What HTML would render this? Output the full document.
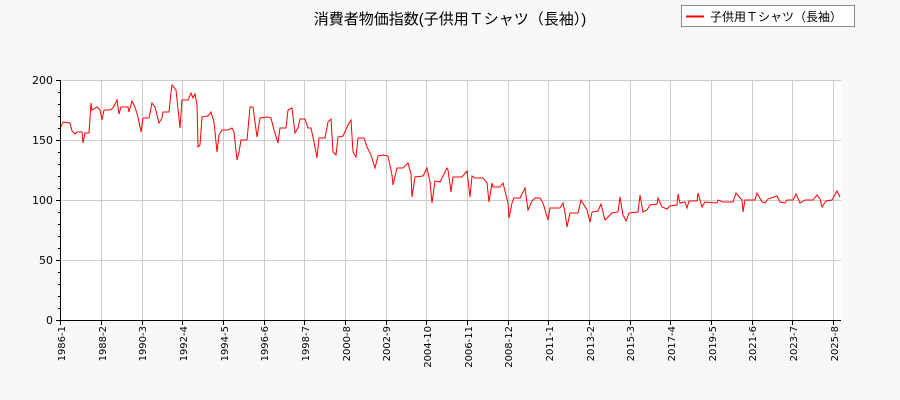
<!DOCTYPE html>
<html><head><meta charset="utf-8"><style>
body{margin:0;background:#f8f8f8;}
svg{display:block;font-family:"DejaVu Sans","Liberation Sans","Noto Sans CJK JP",sans-serif;}
</style></head><body>
<svg width="900" height="400" viewBox="0 0 900 400" xmlns="http://www.w3.org/2000/svg">
<rect width="900" height="400" fill="#f8f8f8"/>
<rect x="61" y="80" width="780" height="240" fill="#fff"/>
<g stroke="#cccccc" stroke-width="1">
<line x1="61" y1="140.5" x2="841" y2="140.5"/><line x1="61" y1="200.5" x2="841" y2="200.5"/><line x1="61" y1="260.5" x2="841" y2="260.5"/><line x1="61" y1="80.5" x2="841" y2="80.5"/>
<line x1="101.5" y1="80" x2="101.5" y2="320"/><line x1="142.5" y1="80" x2="142.5" y2="320"/><line x1="182.5" y1="80" x2="182.5" y2="320"/><line x1="223.5" y1="80" x2="223.5" y2="320"/><line x1="264.5" y1="80" x2="264.5" y2="320"/><line x1="304.5" y1="80" x2="304.5" y2="320"/><line x1="345.5" y1="80" x2="345.5" y2="320"/><line x1="386.5" y1="80" x2="386.5" y2="320"/><line x1="426.5" y1="80" x2="426.5" y2="320"/><line x1="467.5" y1="80" x2="467.5" y2="320"/><line x1="508.5" y1="80" x2="508.5" y2="320"/><line x1="548.5" y1="80" x2="548.5" y2="320"/><line x1="589.5" y1="80" x2="589.5" y2="320"/><line x1="630.5" y1="80" x2="630.5" y2="320"/><line x1="670.5" y1="80" x2="670.5" y2="320"/><line x1="711.5" y1="80" x2="711.5" y2="320"/><line x1="752.5" y1="80" x2="752.5" y2="320"/><line x1="792.5" y1="80" x2="792.5" y2="320"/><line x1="833.5" y1="80" x2="833.5" y2="320"/>
</g>
<g stroke="#000" stroke-width="1">
<line x1="60.5" y1="80" x2="60.5" y2="320"/><line x1="60" y1="320.5" x2="841" y2="320.5"/>
<line x1="56" y1="80.5" x2="61" y2="80.5"/><line x1="56" y1="140.5" x2="61" y2="140.5"/><line x1="56" y1="200.5" x2="61" y2="200.5"/><line x1="56" y1="260.5" x2="61" y2="260.5"/><line x1="56" y1="320.5" x2="61" y2="320.5"/>
<line x1="58" y1="92.5" x2="61" y2="92.5"/><line x1="58" y1="104.5" x2="61" y2="104.5"/><line x1="58" y1="116.5" x2="61" y2="116.5"/><line x1="58" y1="128.5" x2="61" y2="128.5"/><line x1="58" y1="152.5" x2="61" y2="152.5"/><line x1="58" y1="164.5" x2="61" y2="164.5"/><line x1="58" y1="176.5" x2="61" y2="176.5"/><line x1="58" y1="188.5" x2="61" y2="188.5"/><line x1="58" y1="212.5" x2="61" y2="212.5"/><line x1="58" y1="224.5" x2="61" y2="224.5"/><line x1="58" y1="236.5" x2="61" y2="236.5"/><line x1="58" y1="248.5" x2="61" y2="248.5"/><line x1="58" y1="272.5" x2="61" y2="272.5"/><line x1="58" y1="284.5" x2="61" y2="284.5"/><line x1="58" y1="296.5" x2="61" y2="296.5"/><line x1="58" y1="308.5" x2="61" y2="308.5"/>
<line x1="60.5" y1="320" x2="60.5" y2="325"/><line x1="101.5" y1="320" x2="101.5" y2="325"/><line x1="142.5" y1="320" x2="142.5" y2="325"/><line x1="182.5" y1="320" x2="182.5" y2="325"/><line x1="223.5" y1="320" x2="223.5" y2="325"/><line x1="264.5" y1="320" x2="264.5" y2="325"/><line x1="304.5" y1="320" x2="304.5" y2="325"/><line x1="345.5" y1="320" x2="345.5" y2="325"/><line x1="386.5" y1="320" x2="386.5" y2="325"/><line x1="426.5" y1="320" x2="426.5" y2="325"/><line x1="467.5" y1="320" x2="467.5" y2="325"/><line x1="508.5" y1="320" x2="508.5" y2="325"/><line x1="548.5" y1="320" x2="548.5" y2="325"/><line x1="589.5" y1="320" x2="589.5" y2="325"/><line x1="630.5" y1="320" x2="630.5" y2="325"/><line x1="670.5" y1="320" x2="670.5" y2="325"/><line x1="711.5" y1="320" x2="711.5" y2="325"/><line x1="752.5" y1="320" x2="752.5" y2="325"/><line x1="792.5" y1="320" x2="792.5" y2="325"/><line x1="833.5" y1="320" x2="833.5" y2="325"/>
</g>
<g font-size="11" fill="#000" text-anchor="end">
<text x="53" y="84">200</text><text x="53" y="144">150</text><text x="53" y="204">100</text><text x="53" y="264">50</text><text x="53" y="324">0</text>
</g>
<g font-size="10" fill="#000" text-anchor="end">
<text transform="translate(65,326) rotate(-90)">1986-1</text><text transform="translate(106,326) rotate(-90)">1988-2</text><text transform="translate(146,326) rotate(-90)">1990-3</text><text transform="translate(187,326) rotate(-90)">1992-4</text><text transform="translate(228,326) rotate(-90)">1994-5</text><text transform="translate(268,326) rotate(-90)">1996-6</text><text transform="translate(309,326) rotate(-90)">1998-7</text><text transform="translate(350,326) rotate(-90)">2000-8</text><text transform="translate(390,326) rotate(-90)">2002-9</text><text transform="translate(431,326) rotate(-90)">2004-10</text><text transform="translate(472,326) rotate(-90)">2006-11</text><text transform="translate(512,326) rotate(-90)">2008-12</text><text transform="translate(553,326) rotate(-90)">2011-1</text><text transform="translate(594,326) rotate(-90)">2013-2</text><text transform="translate(634,326) rotate(-90)">2015-3</text><text transform="translate(675,326) rotate(-90)">2017-4</text><text transform="translate(716,326) rotate(-90)">2019-5</text><text transform="translate(756,326) rotate(-90)">2021-6</text><text transform="translate(797,326) rotate(-90)">2023-7</text><text transform="translate(838,326) rotate(-90)">2025-8</text>
</g>
<polyline fill="none" stroke="#ff0000" stroke-width="1" points="61,127 63,122 70,123 72,131 75,134 77,132 82,132 83,143 85,133 89,133 91,103 92,110 97,107 100,110 102,120 104,110 110,110 113,108 117,100 119,114 121,107 128,107 129,112 132,101 135,107 138,117 141,132 143,118 149,118 152,103 155,107 159,123 162,118 163,112 169,112 171,92 172,85 176,90 180,128 182,100 188,100 191,93 193,98 195,94 197,105 198,147 200,145 202,117 208,116 211,112 214,122 217,152 219,135 222,130 228,130 232,128 234,132 237,160 239,152 241,140 247,140 250,107 253,107 257,137 260,118 267,117 271,118 274,130 278,143 280,128 286,128 288,110 292,108 295,133 298,128 300,119 305,119 308,128 311,128 314,142 317,158 319,138 325,138 328,122 331,119 333,152 336,155 338,137 343,136 348,125 351,120 353,152 356,157 358,138 364,138 367,147 371,155 375,168 378,156 383,155 388,156 392,175 393,185 397,168 403,168 408,163 411,174 412,197 415,177 423,176 427,168 430,182 432,203 435,181 440,182 447,168 448,170 451,192 453,177 462,177 467,171 470,197 472,176 475,178 483,178 487,183 489,202 492,183 493,187 500,187 503,183 508,203 509,218 512,203 514,198 520,198 525,188 528,210 532,201 535,198 540,198 543,203 548,220 550,208 560,208 563,203 565,213 567,227 570,213 578,213 581,200 587,210 590,222 592,212 598,211 601,204 605,220 612,213 618,212 620,197 623,215 626,221 629,213 638,212 640,195 643,212 647,210 650,205 657,204 658,198 662,207 667,209 670,206 677,205 678,194 680,203 685,202 687,208 689,201 697,201 698,193 702,207 705,202 717,203 718,200 723,202 733,202 736,193 742,200 743,212 745,200 755,200 757,193 762,202 765,203 768,199 777,196 780,202 785,203 787,200 793,200 796,194 800,203 805,200 813,200 817,195 820,199 822,207 826,201 832,200 837,191 840,197"/>
<text x="450" y="24" font-size="15" text-anchor="middle" fill="#000" font-family="Liberation Sans, Noto Sans CJK JP, sans-serif">消費者物価指数(子供用Ｔシャツ（長袖）)</text>
<rect x="681.5" y="5.5" width="173" height="21" fill="#fff" stroke="#888"/>
<line x1="686" y1="16.5" x2="704" y2="16.5" stroke="#ff0000" stroke-width="2"/>
<text x="710" y="21" font-size="12" fill="#000" font-family="Liberation Sans, Noto Sans CJK JP, sans-serif">子供用Ｔシャツ（長袖）</text>
</svg>
</body></html>
